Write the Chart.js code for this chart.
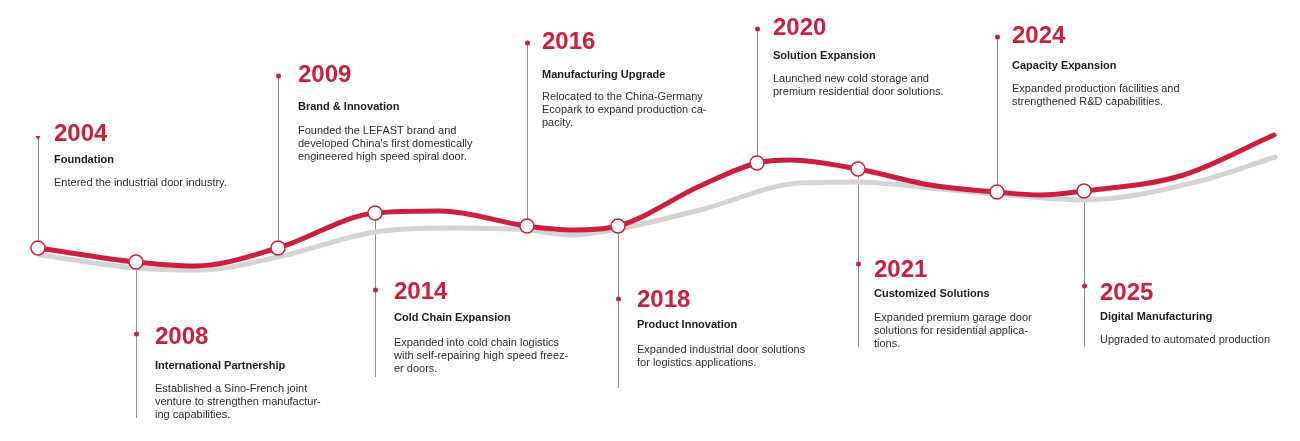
<!DOCTYPE html>
<html>
<head>
<meta charset="utf-8">
<script src="https://cdn.jsdelivr.net/npm/chart.js@4"></script>
<style>
  html, body { margin: 0; padding: 0; background: #fff; }
  #wrap { width: 1300px; height: 441px; position: relative; }
</style>
</head>
<body>
<div id="wrap"><canvas id="timeline"></canvas></div>
<script>
// milestones
const years = ['2004', '2008', '2009', '2014', '2016', '2018', '2020', '2021', '2024', '2025'];
const titles = ['Foundation', 'International Partnership', 'Brand & Innovation', 'Cold Chain Expansion',
  'Manufacturing Upgrade', 'Product Innovation', 'Solution Expansion', 'Customized Solutions',
  'Capacity Expansion', 'Digital Manufacturing'];
const descriptions = [
  ['Entered the industrial door industry.'],
  ['Established a Sino-French joint', 'venture to strengthen manufactur-', 'ing capabilities.'],
  ['Founded the LEFAST brand and', "developed China's first domestically", 'engineered high speed spiral door.'],
  ['Expanded into cold chain logistics', 'with self-repairing high speed freez-', 'er doors.'],
  ['Relocated to the China-Germany', 'Ecopark to expand production ca-', 'pacity.'],
  ['Expanded industrial door solutions', 'for logistics applications.'],
  ['Launched new cold storage and', 'premium residential door solutions.'],
  ['Expanded premium garage door', 'solutions for residential applica-', 'tions.'],
  ['Expanded production facilities and', 'strengthened R&D capabilities.'],
  ['Upgraded to automated production']
];
const milestonePos = [38, 136, 278, 375, 527, 618, 757, 858, 997, 1084];

// main red curve (position along the timeline, height)
const curvePos = [38, 136, 195, 278, 375, 440, 527, 572, 618, 700, 757, 790, 858, 930, 997, 1040, 1084, 1180, 1274];
const curveLevel = [248, 262, 266, 248, 213, 211, 226, 230, 226, 186, 163, 160, 169, 185, 192, 195, 191, 176, 135];

// grey shadow curve
const shadowPos = [40, 136, 200, 278, 375, 450, 527, 570, 618, 700, 800, 858, 930, 997, 1084, 1200, 1275];
const shadowLevel = [255, 268, 270, 257, 232, 228, 230, 235, 229, 210, 183, 182, 188, 194, 200, 181, 157];

// label layout: stem end, year / title / text rows, text offset
const layout = [
  { stem: 138, year: 134, title: 160, text: 183, dx: 16 },
  { stem: 418, dot: 334, year: 337, title: 366, text: 389, dx: 19 },
  { stem: 76,  year: 75,  title: 107, text: 131, dx: 20 },
  { stem: 377, dot: 290, year: 292, title: 318, text: 343, dx: 19 },
  { stem: 43,  year: 42,  title: 75,  text: 97,  dx: 15 },
  { stem: 388, dot: 299, year: 300, title: 325, text: 350, dx: 19 },
  { stem: 29,  year: 28,  title: 56,  text: 79,  dx: 16 },
  { stem: 347, dot: 264, year: 270, title: 294, text: 318, dx: 16 },
  { stem: 37,  year: 36,  title: 66,  text: 89,  dx: 15 },
  { stem: 347, dot: 286, year: 293, title: 317, text: 340, dx: 16 }
];

const RED = '#cd1f3d';

const labelsPlugin = {
  id: 'milestoneLabels',
  beforeDatasetsDraw(chart) {
    const { ctx, scales: { x, y } } = chart;
    ctx.save();
    ctx.strokeStyle = '#8e8e8e';
    ctx.lineWidth = 1;
    milestonePos.forEach((pos, i) => {
      const px = Math.round(x.getPixelForValue(pos)) + 0.5;
      const py = y.getPixelForValue(curveLevel[curvePos.indexOf(pos)]);
      ctx.beginPath();
      ctx.moveTo(px, py);
      ctx.lineTo(px, y.getPixelForValue(layout[i].stem));
      ctx.stroke();
    });
    ctx.restore();
  },
  afterDatasetsDraw(chart) {
    const { ctx, scales: { x, y } } = chart;
    ctx.save();
    ctx.textBaseline = 'middle';
    milestonePos.forEach((pos, i) => {
      const L = layout[i];
      const px = x.getPixelForValue(pos);
      const tx = px + L.dx;
      // red marker
      ctx.fillStyle = RED;
      if (i === 0) {
        const ty = y.getPixelForValue(L.stem);
        ctx.beginPath();
        ctx.moveTo(px - 2.5, ty - 2);
        ctx.lineTo(px + 2.5, ty - 2);
        ctx.lineTo(px, ty + 2);
        ctx.closePath();
        ctx.fill();
      } else {
        const dy = y.getPixelForValue(L.dot !== undefined ? L.dot : L.stem);
        ctx.beginPath();
        ctx.arc(px + 0.5, dy, 2.5, 0, Math.PI * 2);
        ctx.fill();
      }
      ctx.font = 'bold 24px "Liberation Sans", Arial, sans-serif';
      ctx.fillText(years[i], tx, y.getPixelForValue(L.year));
      ctx.fillStyle = '#1c1c1c';
      ctx.font = 'bold 11px "Liberation Sans", Arial, sans-serif';
      ctx.fillText(titles[i], tx, y.getPixelForValue(L.title));
      ctx.fillStyle = '#2e2e2e';
      ctx.font = '11px "Liberation Sans", Arial, sans-serif';
      descriptions[i].forEach((line, j) => {
        ctx.fillText(line, tx, y.getPixelForValue(L.text) + j * 12.8);
      });
    });
    ctx.restore();
  }
};

new Chart(document.getElementById('timeline'), {
  type: 'line',
  data: {
    datasets: [
      {
        label: 'Timeline',
        data: curvePos.map((p, i) => ({ x: p, y: curveLevel[i] })),
        borderColor: RED,
        borderWidth: 5,
        borderCapStyle: 'round',
        cubicInterpolationMode: 'monotone',
        pointRadius: curvePos.map(p => milestonePos.includes(p) ? 7 : 0),
        pointBackgroundColor: '#ffffff',
        pointBorderColor: RED,
        pointBorderWidth: 1.5,
        pointHoverRadius: 0,
        fill: false
      },
      {
        label: 'Shadow',
        data: shadowPos.map((p, i) => ({ x: p, y: shadowLevel[i] })),
        borderColor: '#d6d3d3',
        borderWidth: 5,
        borderCapStyle: 'round',
        cubicInterpolationMode: 'monotone',
        pointRadius: 0,
        fill: false
      }
    ]
  },
  options: {
    responsive: true,
    maintainAspectRatio: false,
    animation: false,
    layout: { padding: 0, autoPadding: false },
    plugins: { legend: { display: false }, tooltip: { enabled: false } },
    scales: {
      x: { type: 'linear', min: 0, max: 1300, display: false },
      y: { type: 'linear', min: 0, max: 441, reverse: true, display: false }
    }
  },
  plugins: [labelsPlugin]
});
</script>
</body>
</html>
